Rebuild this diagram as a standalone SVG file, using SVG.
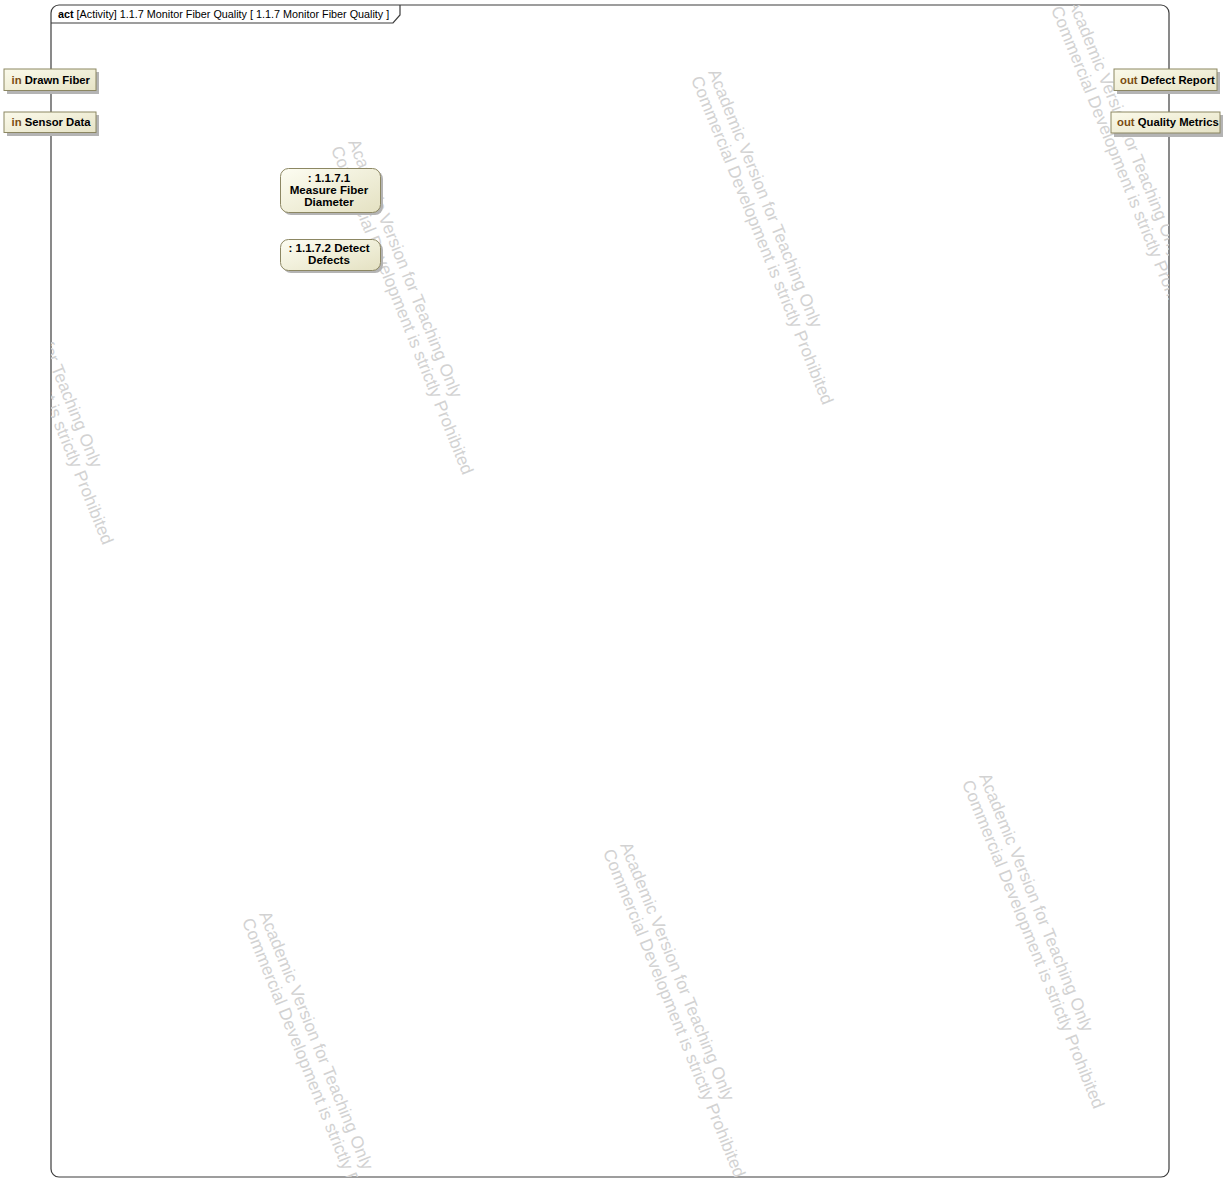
<svg xmlns="http://www.w3.org/2000/svg" xmlns:xlink="http://www.w3.org/1999/xlink" width="1232" height="1182" viewBox="0 0 1232 1182">
<style>
.frame{fill:#ffffff;stroke:#3c3c3c;stroke-width:1.2}
.hdr{font-family:"Liberation Sans",Arial,sans-serif;font-size:10.8px;fill:#000}
.b{font-weight:bold}
.pin{fill:url(#pinGrad);stroke:#8c8763;stroke-width:1}
.shadow{fill:#b4b4b4}
.pt{font-family:"Liberation Sans",Arial,sans-serif;font-size:11.3px;font-weight:bold;fill:#000}
.kw{fill:#7a4c12}
.act{fill:url(#actGrad);stroke:#8c8763;stroke-width:1}
.at{font-family:"Liberation Sans",Arial,sans-serif;font-size:11.6px;font-weight:bold;fill:#000;text-anchor:middle}
.wm{font-family:"Liberation Sans",Arial,sans-serif;font-size:17.3px;fill:#d2d2d2}
</style>
<defs>
<linearGradient id="pinGrad" x1="0" y1="0" x2="1" y2="1">
<stop offset="0" stop-color="#fbfaea"/>
<stop offset="1" stop-color="#e6e3c6"/>
</linearGradient>
<linearGradient id="actGrad" x1="0" y1="0" x2="1" y2="1">
<stop offset="0" stop-color="#fdfdf2"/>
<stop offset="1" stop-color="#e4e1c2"/>
</linearGradient>
<clipPath id="frameClip">
<rect x="51" y="5" width="1118" height="1172" rx="8" ry="8"/>
</clipPath>
<g id="wm">
<text class="wm" x="0" y="0">Academic Version for Teaching Only</text>
<text class="wm" x="0" y="18.5">Commercial Development is strictly Prohibited</text>
</g>
</defs>

<g id="frame">
<rect class="frame" x="51" y="5" width="1118" height="1172" rx="8" ry="8"/>
</g>

<g id="watermarks" clip-path="url(#frameClip)">
<use xlink:href="#wm" transform="translate(708,72) rotate(68)"/>
<use xlink:href="#wm" transform="translate(1068,2) rotate(68)"/>
<use xlink:href="#wm" transform="translate(348,142) rotate(68)"/>
<use xlink:href="#wm" transform="translate(-12,212) rotate(68)"/>
<use xlink:href="#wm" transform="translate(620,845) rotate(68)"/>
<use xlink:href="#wm" transform="translate(979,776) rotate(68)"/>
<use xlink:href="#wm" transform="translate(259,914) rotate(68)"/>
</g>

<g id="header">
<path d="M51,23 L393,23 L400,15 L400,5" fill="none" stroke="#3c3c3c" stroke-width="1.2"/>
<text class="hdr" x="58" y="18"><tspan class="b">act</tspan> [Activity] 1.1.7 Monitor Fiber Quality [ 1.1.7 Monitor Fiber Quality ]</text>
</g>

<g id="connectors"></g>

<g id="pin-drawn-fiber">
<rect class="shadow" x="7" y="72" width="92" height="22"/>
<rect class="pin" x="4" y="69" width="92" height="21.5"/>
<text class="pt" x="11.5" y="83.5"><tspan class="kw">in</tspan> Drawn Fiber</text>
</g>

<g id="pin-sensor-data">
<rect class="shadow" x="7" y="115" width="92" height="21"/>
<rect class="pin" x="4" y="112" width="92" height="20.5"/>
<text class="pt" x="11.5" y="126"><tspan class="kw">in</tspan> Sensor Data</text>
</g>

<g id="pin-defect-report">
<rect class="shadow" x="1117" y="72" width="103" height="22"/>
<rect class="pin" x="1114" y="69" width="103" height="21.5"/>
<text class="pt" x="1120" y="83.5"><tspan class="kw">out</tspan> Defect Report</text>
</g>

<g id="pin-quality-metrics">
<rect class="shadow" x="1114" y="115" width="109" height="22"/>
<rect class="pin" x="1111" y="112" width="109" height="21"/>
<text class="pt" x="1117" y="126"><tspan class="kw">out</tspan> Quality Metrics</text>
</g>

<g id="action-1171">
<rect class="shadow" x="283" y="171" width="100" height="44" rx="8" ry="8"/>
<rect class="act" x="280.5" y="168.5" width="100" height="44" rx="8" ry="8"/>
<text class="at" x="329" y="181.5">: 1.1.7.1</text>
<text class="at" x="329" y="193.5">Measure Fiber</text>
<text class="at" x="329" y="205.5">Diameter</text>
</g>

<g id="action-1172">
<rect class="shadow" x="283" y="242" width="100" height="31" rx="8" ry="8"/>
<rect class="act" x="280.5" y="239.5" width="100" height="31" rx="8" ry="8"/>
<text class="at" x="329" y="251.5">: 1.1.7.2 Detect</text>
<text class="at" x="329" y="263.5">Defects</text>
</g>
</svg>
